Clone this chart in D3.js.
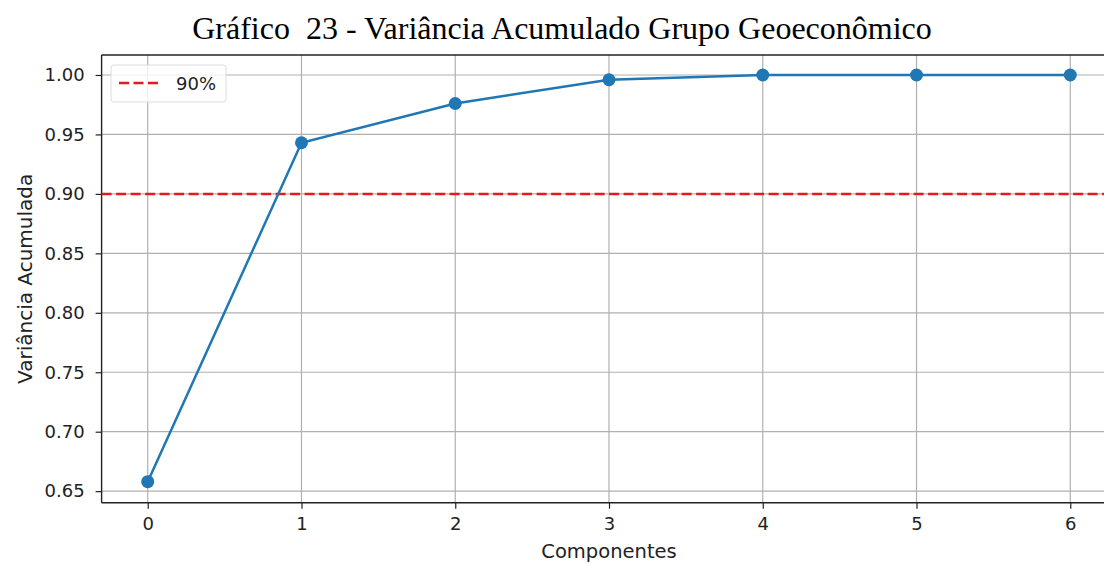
<!DOCTYPE html>
<html><head><meta charset="utf-8">
<script src="https://cdn.jsdelivr.net/npm/d3@7"></script>
<style>body{margin:0;background:#fff}svg{display:block}text{white-space:pre}</style>
</head><body>
<svg id="c" width="1104" height="564"></svg>
<script>
const title = "Gráfico  23 - Variância Acumulado Grupo Geoeconômico";
const components = [0, 1, 2, 3, 4, 5, 6];
const cumVariance = [0.658, 0.943, 0.976, 0.996, 1.0, 1.0, 1.0];
const threshold = 0.90;
const thresholdLabel = "90%";
const yTicks = [0.65, 0.70, 0.75, 0.80, 0.85, 0.90, 0.95, 1.00];
const xLabel = "Componentes";
const yLabel = "Variância Acumulada";

const svg = d3.select("#c");
const m = {left: 101.6, right: 1116.4, top: 55, bottom: 502.7};
const x = d3.scaleLinear().domain([-0.3, 6.3]).range([m.left, m.right]);
const y = d3.scaleLinear().domain([0.6403, 1.0168]).range([m.bottom, m.top]);
const tickFont = "DejaVu Sans, sans-serif";
const tickSize = 18;

// title
svg.append("text").attr("x", 562).attr("y", 39).attr("text-anchor", "middle")
  .attr("font-family", "Liberation Serif, Times New Roman, serif").attr("font-size", 32)
  .attr("fill", "#000").attr("xml:space", "preserve").text(title);

// grid
const g = svg.append("g");
g.selectAll(".gx").data(components).join("line")
  .attr("x1", d => x(d)).attr("x2", d => x(d)).attr("y1", m.top).attr("y2", m.bottom)
  .attr("stroke", "#b0b0b0").attr("stroke-width", 1.2);
g.selectAll(".gy").data(yTicks).join("line")
  .attr("y1", d => y(d)).attr("y2", d => y(d)).attr("x1", m.left).attr("x2", m.right)
  .attr("stroke", "#b0b0b0").attr("stroke-width", 1.2);

// axes
const xAxis = svg.append("g").attr("transform", `translate(0,${m.bottom})`)
  .call(d3.axisBottom(x).tickValues(components).tickFormat(d3.format("d")).tickSize(6).tickPadding(9));
const yAxis = svg.append("g").attr("transform", `translate(${m.left},0)`)
  .call(d3.axisLeft(y).tickValues(yTicks).tickFormat(d3.format(".2f")).tickSize(6).tickPadding(11));
[xAxis, yAxis].forEach(a => {
  a.select(".domain").remove();
  a.selectAll(".tick line").attr("stroke", "#222").attr("stroke-width", 1.2);
  a.selectAll(".tick text").attr("font-family", tickFont).attr("font-size", tickSize).attr("fill", "#222");
});

// spines
svg.append("line").attr("x1", m.left).attr("x2", m.right).attr("y1", m.bottom).attr("y2", m.bottom).attr("stroke", "#222").attr("stroke-width", 1.4);
svg.append("line").attr("x1", m.left).attr("x2", m.right).attr("y1", m.top).attr("y2", m.top).attr("stroke", "#222").attr("stroke-width", 1.4);
svg.append("line").attr("x1", m.left).attr("x2", m.left).attr("y1", m.top).attr("y2", m.bottom).attr("stroke", "#222").attr("stroke-width", 1.4);

// threshold
svg.append("line").attr("x1", m.left).attr("x2", m.right).attr("y1", y(threshold)).attr("y2", y(threshold))
  .attr("stroke", "#e41a1c").attr("stroke-width", 2.5).attr("stroke-dasharray", "10,4.5");

// series
const pts = components.map((c, i) => [c, cumVariance[i]]);
svg.append("path").datum(pts)
  .attr("d", d3.line().x(d => x(d[0])).y(d => y(d[1])))
  .attr("fill", "none").attr("stroke", "#1f77b4").attr("stroke-width", 2.5);
svg.selectAll(".pt").data(pts).join("circle")
  .attr("cx", d => x(d[0])).attr("cy", d => y(d[1])).attr("r", 6.5).attr("fill", "#1f77b4");

// labels
svg.append("text").attr("x", (m.left + m.right) / 2).attr("y", 558).attr("text-anchor", "middle")
  .attr("font-family", tickFont).attr("font-size", 19.5).attr("fill", "#222").text(xLabel);
svg.append("text").attr("transform", `translate(32,${(m.top + m.bottom) / 2}) rotate(-90)`)
  .attr("text-anchor", "middle").attr("font-family", tickFont).attr("font-size", 20).attr("fill", "#222").text(yLabel);

// legend
const lg = svg.append("g");
lg.append("rect").attr("x", 111).attr("y", 65).attr("width", 115).attr("height", 37).attr("rx", 3)
  .attr("fill", "#fff").attr("fill-opacity", 0.8).attr("stroke", "#ddd").attr("stroke-width", 1);
lg.append("line").attr("x1", 119).attr("x2", 158).attr("y1", 83).attr("y2", 83)
  .attr("stroke", "#e41a1c").attr("stroke-width", 2.5).attr("stroke-dasharray", "10,4.5");
lg.append("text").attr("x", 176).attr("y", 89.5).attr("font-family", tickFont).attr("font-size", tickSize)
  .attr("fill", "#222").text(thresholdLabel);
</script>
</body></html>
